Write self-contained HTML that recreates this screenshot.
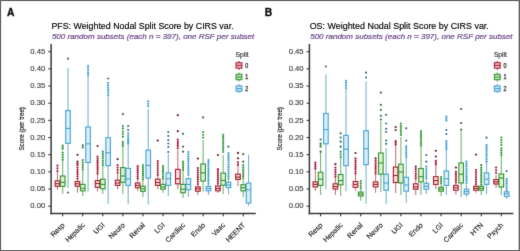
<!DOCTYPE html>
<html><head><meta charset="utf-8"><title>Weighted Nodal Split Score</title>
<style>html,body{margin:0;padding:0;background:#fff;} svg{display:block;} body{font-family:"Liberation Sans",sans-serif;}</style>
</head><body>
<svg width="520" height="251" viewBox="0 0 520 251">
<defs><filter id="soft" x="0" y="0" width="100%" height="100%" filterUnits="userSpaceOnUse" color-interpolation-filters="sRGB"><feConvolveMatrix order="3" kernelMatrix="0.015 0.065 0.015 0.065 0.68 0.065 0.015 0.065 0.015" edgeMode="duplicate"/></filter></defs>
<g filter="url(#soft)">
<rect x="0" y="0" width="520" height="251" fill="#fff"/>
<text x="7.0" y="15.6" font-size="10.3" font-weight="bold" fill="#111" stroke="#111" stroke-width="0.35" font-family="'Liberation Sans', sans-serif">A</text>
<text x="51.4" y="29.2" font-size="8.6" fill="#000" stroke="#000" stroke-width="0.15" font-family="'Liberation Sans', sans-serif" textLength="182.2" lengthAdjust="spacingAndGlyphs">PFS: Weighted Nodal Split Score by CIRS var.</text>
<text x="51.9" y="39.0" font-size="7.8" font-style="italic" fill="#6c4a8c" stroke="#6c4a8c" stroke-width="0.22" font-family="'Liberation Sans', sans-serif" textLength="202.4" lengthAdjust="spacingAndGlyphs">500 random subsets (each <tspan>n</tspan> = 397), one RSF per subset</text>
<line x1="48.30" y1="206.20" x2="51.10" y2="206.20" stroke="#222" stroke-width="1.0"/>
<text x="45.30" y="208.45" font-size="7.7" fill="#3a3a3a" stroke="#3a3a3a" stroke-width="0.12" text-anchor="end" font-family="'Liberation Sans', sans-serif">0.00</text>
<line x1="48.30" y1="189.03" x2="51.10" y2="189.03" stroke="#222" stroke-width="1.0"/>
<text x="45.30" y="191.28" font-size="7.7" fill="#3a3a3a" stroke="#3a3a3a" stroke-width="0.12" text-anchor="end" font-family="'Liberation Sans', sans-serif">0.05</text>
<line x1="48.30" y1="171.87" x2="51.10" y2="171.87" stroke="#222" stroke-width="1.0"/>
<text x="45.30" y="174.12" font-size="7.7" fill="#3a3a3a" stroke="#3a3a3a" stroke-width="0.12" text-anchor="end" font-family="'Liberation Sans', sans-serif">0.10</text>
<line x1="48.30" y1="154.70" x2="51.10" y2="154.70" stroke="#222" stroke-width="1.0"/>
<text x="45.30" y="156.95" font-size="7.7" fill="#3a3a3a" stroke="#3a3a3a" stroke-width="0.12" text-anchor="end" font-family="'Liberation Sans', sans-serif">0.15</text>
<line x1="48.30" y1="137.54" x2="51.10" y2="137.54" stroke="#222" stroke-width="1.0"/>
<text x="45.30" y="139.79" font-size="7.7" fill="#3a3a3a" stroke="#3a3a3a" stroke-width="0.12" text-anchor="end" font-family="'Liberation Sans', sans-serif">0.20</text>
<line x1="48.30" y1="120.37" x2="51.10" y2="120.37" stroke="#222" stroke-width="1.0"/>
<text x="45.30" y="122.62" font-size="7.7" fill="#3a3a3a" stroke="#3a3a3a" stroke-width="0.12" text-anchor="end" font-family="'Liberation Sans', sans-serif">0.25</text>
<line x1="48.30" y1="103.21" x2="51.10" y2="103.21" stroke="#222" stroke-width="1.0"/>
<text x="45.30" y="105.46" font-size="7.7" fill="#3a3a3a" stroke="#3a3a3a" stroke-width="0.12" text-anchor="end" font-family="'Liberation Sans', sans-serif">0.30</text>
<line x1="48.30" y1="86.04" x2="51.10" y2="86.04" stroke="#222" stroke-width="1.0"/>
<text x="45.30" y="88.29" font-size="7.7" fill="#3a3a3a" stroke="#3a3a3a" stroke-width="0.12" text-anchor="end" font-family="'Liberation Sans', sans-serif">0.35</text>
<line x1="48.30" y1="68.88" x2="51.10" y2="68.88" stroke="#222" stroke-width="1.0"/>
<text x="45.30" y="71.13" font-size="7.7" fill="#3a3a3a" stroke="#3a3a3a" stroke-width="0.12" text-anchor="end" font-family="'Liberation Sans', sans-serif">0.40</text>
<line x1="48.30" y1="51.71" x2="51.10" y2="51.71" stroke="#222" stroke-width="1.0"/>
<text x="45.30" y="53.96" font-size="7.7" fill="#3a3a3a" stroke="#3a3a3a" stroke-width="0.12" text-anchor="end" font-family="'Liberation Sans', sans-serif">0.45</text>
<text transform="translate(24.2,128.8) rotate(-90)" x="-21.75" y="0" font-size="6.9" fill="#1a1a1a" stroke="#1a1a1a" stroke-width="0.15" textLength="43.5" lengthAdjust="spacingAndGlyphs" font-family="'Liberation Sans', sans-serif">Score (per tree)</text>
<line x1="57.45" y1="171.00" x2="57.45" y2="180.90" stroke="#c47482" stroke-width="1.1"/>
<line x1="57.45" y1="186.30" x2="57.45" y2="189.50" stroke="#c47482" stroke-width="1.1"/>
<rect x="55.15" y="180.90" width="4.60" height="5.40" fill="#fbe0da" stroke="#a82035" stroke-width="1.15"/>
<line x1="55.15" y1="183.70" x2="59.75" y2="183.70" stroke="#a82035" stroke-width="1.15"/>
<circle cx="57.45" cy="165.60" r="1.1" fill="#a8173a"/>
<circle cx="57.45" cy="168.30" r="1.1" fill="#a8173a"/>
<circle cx="57.45" cy="171.00" r="1.1" fill="#a8173a"/>
<line x1="62.70" y1="160.00" x2="62.70" y2="176.00" stroke="#74b46a" stroke-width="1.1"/>
<line x1="62.70" y1="186.30" x2="62.70" y2="193.80" stroke="#74b46a" stroke-width="1.1"/>
<rect x="60.40" y="176.00" width="4.60" height="10.30" fill="#e0f3d4" stroke="#379434" stroke-width="1.15"/>
<line x1="60.40" y1="182.40" x2="65.00" y2="182.40" stroke="#379434" stroke-width="1.15"/>
<circle cx="62.70" cy="145.50" r="1.1" fill="#38983a"/>
<circle cx="62.70" cy="147.25" r="1.1" fill="#38983a"/>
<circle cx="62.70" cy="149.00" r="1.1" fill="#38983a"/>
<circle cx="62.70" cy="152.70" r="1.1" fill="#38983a"/>
<circle cx="62.70" cy="155.03" r="1.1" fill="#38983a"/>
<circle cx="62.70" cy="157.37" r="1.1" fill="#38983a"/>
<circle cx="62.70" cy="159.70" r="1.1" fill="#38983a"/>
<line x1="68.00" y1="67.90" x2="68.00" y2="110.60" stroke="#78b4ca" stroke-width="1.1"/>
<line x1="68.00" y1="143.30" x2="68.00" y2="188.00" stroke="#78b4ca" stroke-width="1.1"/>
<rect x="65.70" y="110.60" width="4.60" height="32.70" fill="#daeffa" stroke="#4aa4d4" stroke-width="1.15"/>
<line x1="65.70" y1="128.50" x2="70.30" y2="128.50" stroke="#4aa4d4" stroke-width="1.15"/>
<circle cx="68.00" cy="58.70" r="1.1" fill="#3a6e90"/>
<circle cx="68.00" cy="192.50" r="1.1" fill="#3a6e90"/>
<line x1="77.51" y1="178.50" x2="77.51" y2="181.50" stroke="#c47482" stroke-width="1.1"/>
<line x1="77.51" y1="186.30" x2="77.51" y2="192.70" stroke="#c47482" stroke-width="1.1"/>
<rect x="75.21" y="181.50" width="4.60" height="4.80" fill="#fbe0da" stroke="#a82035" stroke-width="1.15"/>
<line x1="75.21" y1="183.80" x2="79.81" y2="183.80" stroke="#a82035" stroke-width="1.15"/>
<circle cx="77.51" cy="154.80" r="1.1" fill="#701828"/>
<circle cx="77.51" cy="161.70" r="1.1" fill="#701828"/>
<circle cx="77.51" cy="163.40" r="1.1" fill="#a8173a"/>
<circle cx="77.51" cy="165.20" r="1.1" fill="#a8173a"/>
<circle cx="77.51" cy="167.60" r="1.1" fill="#a8173a"/>
<circle cx="77.51" cy="169.78" r="1.1" fill="#a8173a"/>
<circle cx="77.51" cy="171.96" r="1.1" fill="#a8173a"/>
<circle cx="77.51" cy="174.14" r="1.1" fill="#a8173a"/>
<circle cx="77.51" cy="176.32" r="1.1" fill="#a8173a"/>
<circle cx="77.51" cy="178.50" r="1.1" fill="#a8173a"/>
<line x1="82.76" y1="169.30" x2="82.76" y2="184.40" stroke="#74b46a" stroke-width="1.1"/>
<line x1="82.76" y1="190.80" x2="82.76" y2="196.00" stroke="#74b46a" stroke-width="1.1"/>
<rect x="80.46" y="184.40" width="4.60" height="6.40" fill="#e0f3d4" stroke="#379434" stroke-width="1.15"/>
<line x1="80.46" y1="188.30" x2="85.06" y2="188.30" stroke="#379434" stroke-width="1.15"/>
<circle cx="82.76" cy="145.30" r="1.1" fill="#3c6e3c"/>
<circle cx="82.76" cy="147.50" r="1.1" fill="#3c6e3c"/>
<circle cx="82.76" cy="160.00" r="1.1" fill="#38983a"/>
<circle cx="82.76" cy="162.32" r="1.1" fill="#38983a"/>
<circle cx="82.76" cy="164.65" r="1.1" fill="#38983a"/>
<circle cx="82.76" cy="166.98" r="1.1" fill="#38983a"/>
<circle cx="82.76" cy="169.30" r="1.1" fill="#38983a"/>
<line x1="88.06" y1="75.00" x2="88.06" y2="127.00" stroke="#78b4ca" stroke-width="1.1"/>
<line x1="88.06" y1="162.50" x2="88.06" y2="191.50" stroke="#78b4ca" stroke-width="1.1"/>
<rect x="85.76" y="127.00" width="4.60" height="35.50" fill="#daeffa" stroke="#4aa4d4" stroke-width="1.15"/>
<line x1="85.76" y1="143.80" x2="90.36" y2="143.80" stroke="#4aa4d4" stroke-width="1.15"/>
<circle cx="88.06" cy="66.00" r="1.1" fill="#3c9ed6"/>
<circle cx="88.06" cy="68.25" r="1.1" fill="#3c9ed6"/>
<circle cx="88.06" cy="70.50" r="1.1" fill="#3c9ed6"/>
<circle cx="88.06" cy="72.75" r="1.1" fill="#3c9ed6"/>
<circle cx="88.06" cy="75.00" r="1.1" fill="#3c9ed6"/>
<line x1="97.57" y1="173.40" x2="97.57" y2="180.60" stroke="#c47482" stroke-width="1.1"/>
<line x1="97.57" y1="187.30" x2="97.57" y2="191.50" stroke="#c47482" stroke-width="1.1"/>
<rect x="95.27" y="180.60" width="4.60" height="6.70" fill="#fbe0da" stroke="#a82035" stroke-width="1.15"/>
<line x1="95.27" y1="183.50" x2="99.87" y2="183.50" stroke="#a82035" stroke-width="1.15"/>
<circle cx="97.57" cy="146.00" r="1.1" fill="#701828"/>
<circle cx="97.57" cy="156.70" r="1.1" fill="#a8173a"/>
<circle cx="97.57" cy="158.79" r="1.1" fill="#a8173a"/>
<circle cx="97.57" cy="160.88" r="1.1" fill="#a8173a"/>
<circle cx="97.57" cy="162.96" r="1.1" fill="#a8173a"/>
<circle cx="97.57" cy="165.05" r="1.1" fill="#a8173a"/>
<circle cx="97.57" cy="167.14" r="1.1" fill="#a8173a"/>
<circle cx="97.57" cy="169.22" r="1.1" fill="#a8173a"/>
<circle cx="97.57" cy="171.31" r="1.1" fill="#a8173a"/>
<circle cx="97.57" cy="173.40" r="1.1" fill="#a8173a"/>
<line x1="102.82" y1="165.00" x2="102.82" y2="179.20" stroke="#74b46a" stroke-width="1.1"/>
<line x1="102.82" y1="188.80" x2="102.82" y2="194.00" stroke="#74b46a" stroke-width="1.1"/>
<rect x="100.52" y="179.20" width="4.60" height="9.60" fill="#e0f3d4" stroke="#379434" stroke-width="1.15"/>
<line x1="100.52" y1="184.40" x2="105.12" y2="184.40" stroke="#379434" stroke-width="1.15"/>
<circle cx="102.82" cy="151.70" r="1.1" fill="#38983a"/>
<circle cx="102.82" cy="153.92" r="1.1" fill="#38983a"/>
<circle cx="102.82" cy="156.13" r="1.1" fill="#38983a"/>
<circle cx="102.82" cy="158.35" r="1.1" fill="#38983a"/>
<circle cx="102.82" cy="160.57" r="1.1" fill="#38983a"/>
<circle cx="102.82" cy="162.78" r="1.1" fill="#38983a"/>
<circle cx="102.82" cy="165.00" r="1.1" fill="#38983a"/>
<line x1="108.12" y1="96.00" x2="108.12" y2="137.70" stroke="#78b4ca" stroke-width="1.1"/>
<line x1="108.12" y1="165.60" x2="108.12" y2="203.70" stroke="#78b4ca" stroke-width="1.1"/>
<rect x="105.82" y="137.70" width="4.60" height="27.90" fill="#daeffa" stroke="#4aa4d4" stroke-width="1.15"/>
<line x1="105.82" y1="152.70" x2="110.42" y2="152.70" stroke="#4aa4d4" stroke-width="1.15"/>
<circle cx="108.12" cy="78.50" r="1.1" fill="#3a6e90"/>
<circle cx="108.12" cy="83.00" r="1.1" fill="#3c9ed6"/>
<circle cx="108.12" cy="85.40" r="1.1" fill="#3c9ed6"/>
<circle cx="108.12" cy="87.80" r="1.1" fill="#3c9ed6"/>
<circle cx="108.12" cy="90.20" r="1.1" fill="#3c9ed6"/>
<circle cx="108.12" cy="92.60" r="1.1" fill="#3c9ed6"/>
<circle cx="108.12" cy="95.00" r="1.1" fill="#3c9ed6"/>
<line x1="117.63" y1="172.60" x2="117.63" y2="180.20" stroke="#c47482" stroke-width="1.1"/>
<line x1="117.63" y1="185.40" x2="117.63" y2="189.60" stroke="#c47482" stroke-width="1.1"/>
<rect x="115.33" y="180.20" width="4.60" height="5.20" fill="#fbe0da" stroke="#a82035" stroke-width="1.15"/>
<line x1="115.33" y1="183.00" x2="119.93" y2="183.00" stroke="#a82035" stroke-width="1.15"/>
<circle cx="117.63" cy="159.20" r="1.1" fill="#701828"/>
<circle cx="117.63" cy="165.00" r="1.1" fill="#a8173a"/>
<circle cx="117.63" cy="167.53" r="1.1" fill="#a8173a"/>
<circle cx="117.63" cy="170.07" r="1.1" fill="#a8173a"/>
<circle cx="117.63" cy="172.60" r="1.1" fill="#a8173a"/>
<line x1="122.88" y1="146.00" x2="122.88" y2="167.60" stroke="#74b46a" stroke-width="1.1"/>
<line x1="122.88" y1="182.30" x2="122.88" y2="194.00" stroke="#74b46a" stroke-width="1.1"/>
<rect x="120.58" y="167.60" width="4.60" height="14.70" fill="#e0f3d4" stroke="#379434" stroke-width="1.15"/>
<line x1="120.58" y1="176.00" x2="125.18" y2="176.00" stroke="#379434" stroke-width="1.15"/>
<circle cx="122.88" cy="114.20" r="1.1" fill="#3c6e3c"/>
<circle cx="122.88" cy="126.00" r="1.1" fill="#38983a"/>
<circle cx="122.88" cy="128.40" r="1.1" fill="#38983a"/>
<circle cx="122.88" cy="131.70" r="1.1" fill="#38983a"/>
<circle cx="122.88" cy="134.25" r="1.1" fill="#38983a"/>
<circle cx="122.88" cy="136.80" r="1.1" fill="#38983a"/>
<circle cx="122.88" cy="141.80" r="1.1" fill="#38983a"/>
<circle cx="122.88" cy="143.90" r="1.1" fill="#38983a"/>
<circle cx="122.88" cy="146.00" r="1.1" fill="#38983a"/>
<line x1="128.18" y1="143.40" x2="128.18" y2="168.40" stroke="#78b4ca" stroke-width="1.1"/>
<line x1="128.18" y1="185.40" x2="128.18" y2="204.20" stroke="#78b4ca" stroke-width="1.1"/>
<rect x="125.88" y="168.40" width="4.60" height="17.00" fill="#daeffa" stroke="#4aa4d4" stroke-width="1.15"/>
<line x1="125.88" y1="179.00" x2="130.48" y2="179.00" stroke="#4aa4d4" stroke-width="1.15"/>
<circle cx="128.18" cy="126.00" r="1.1" fill="#3a6e90"/>
<circle cx="128.18" cy="130.00" r="1.1" fill="#3a6e90"/>
<circle cx="128.18" cy="133.40" r="1.1" fill="#3c9ed6"/>
<circle cx="128.18" cy="135.90" r="1.1" fill="#3c9ed6"/>
<circle cx="128.18" cy="138.40" r="1.1" fill="#3c9ed6"/>
<circle cx="128.18" cy="140.00" r="1.1" fill="#3c9ed6"/>
<circle cx="128.18" cy="141.70" r="1.1" fill="#3c9ed6"/>
<circle cx="128.18" cy="143.40" r="1.1" fill="#3c9ed6"/>
<line x1="137.69" y1="178.40" x2="137.69" y2="183.00" stroke="#c47482" stroke-width="1.1"/>
<line x1="137.69" y1="187.70" x2="137.69" y2="191.00" stroke="#c47482" stroke-width="1.1"/>
<rect x="135.39" y="183.00" width="4.60" height="4.70" fill="#fbe0da" stroke="#a82035" stroke-width="1.15"/>
<line x1="135.39" y1="185.40" x2="139.99" y2="185.40" stroke="#a82035" stroke-width="1.15"/>
<circle cx="137.69" cy="166.00" r="1.1" fill="#a8173a"/>
<circle cx="137.69" cy="168.07" r="1.1" fill="#a8173a"/>
<circle cx="137.69" cy="170.13" r="1.1" fill="#a8173a"/>
<circle cx="137.69" cy="172.20" r="1.1" fill="#a8173a"/>
<circle cx="137.69" cy="174.27" r="1.1" fill="#a8173a"/>
<circle cx="137.69" cy="176.33" r="1.1" fill="#a8173a"/>
<circle cx="137.69" cy="178.40" r="1.1" fill="#a8173a"/>
<line x1="142.94" y1="179.30" x2="142.94" y2="186.30" stroke="#74b46a" stroke-width="1.1"/>
<line x1="142.94" y1="191.30" x2="142.94" y2="197.00" stroke="#74b46a" stroke-width="1.1"/>
<rect x="140.64" y="186.30" width="4.60" height="5.00" fill="#e0f3d4" stroke="#379434" stroke-width="1.15"/>
<line x1="140.64" y1="188.80" x2="145.24" y2="188.80" stroke="#379434" stroke-width="1.15"/>
<circle cx="142.94" cy="165.00" r="1.1" fill="#38983a"/>
<circle cx="142.94" cy="167.04" r="1.1" fill="#38983a"/>
<circle cx="142.94" cy="169.09" r="1.1" fill="#38983a"/>
<circle cx="142.94" cy="171.13" r="1.1" fill="#38983a"/>
<circle cx="142.94" cy="173.17" r="1.1" fill="#38983a"/>
<circle cx="142.94" cy="175.21" r="1.1" fill="#38983a"/>
<circle cx="142.94" cy="177.26" r="1.1" fill="#38983a"/>
<circle cx="142.94" cy="179.30" r="1.1" fill="#38983a"/>
<line x1="148.24" y1="109.00" x2="148.24" y2="150.20" stroke="#78b4ca" stroke-width="1.1"/>
<line x1="148.24" y1="178.00" x2="148.24" y2="204.60" stroke="#78b4ca" stroke-width="1.1"/>
<rect x="145.94" y="150.20" width="4.60" height="27.80" fill="#daeffa" stroke="#4aa4d4" stroke-width="1.15"/>
<line x1="145.94" y1="165.40" x2="150.54" y2="165.40" stroke="#4aa4d4" stroke-width="1.15"/>
<circle cx="148.24" cy="101.30" r="1.1" fill="#3c9ed6"/>
<circle cx="148.24" cy="103.75" r="1.1" fill="#3c9ed6"/>
<circle cx="148.24" cy="106.20" r="1.1" fill="#3c9ed6"/>
<line x1="157.75" y1="175.00" x2="157.75" y2="179.20" stroke="#c47482" stroke-width="1.1"/>
<line x1="157.75" y1="185.40" x2="157.75" y2="189.20" stroke="#c47482" stroke-width="1.1"/>
<rect x="155.45" y="179.20" width="4.60" height="6.20" fill="#fbe0da" stroke="#a82035" stroke-width="1.15"/>
<line x1="155.45" y1="182.50" x2="160.05" y2="182.50" stroke="#a82035" stroke-width="1.15"/>
<circle cx="157.75" cy="140.60" r="1.1" fill="#701828"/>
<circle cx="157.75" cy="161.00" r="1.1" fill="#a8173a"/>
<circle cx="157.75" cy="163.33" r="1.1" fill="#a8173a"/>
<circle cx="157.75" cy="165.67" r="1.1" fill="#a8173a"/>
<circle cx="157.75" cy="168.00" r="1.1" fill="#a8173a"/>
<circle cx="157.75" cy="170.33" r="1.1" fill="#a8173a"/>
<circle cx="157.75" cy="172.67" r="1.1" fill="#a8173a"/>
<circle cx="157.75" cy="175.00" r="1.1" fill="#a8173a"/>
<line x1="163.00" y1="178.40" x2="163.00" y2="184.40" stroke="#74b46a" stroke-width="1.1"/>
<line x1="163.00" y1="189.20" x2="163.00" y2="193.00" stroke="#74b46a" stroke-width="1.1"/>
<rect x="160.70" y="184.40" width="4.60" height="4.80" fill="#e0f3d4" stroke="#379434" stroke-width="1.15"/>
<line x1="160.70" y1="187.00" x2="165.30" y2="187.00" stroke="#379434" stroke-width="1.15"/>
<circle cx="163.00" cy="166.00" r="1.1" fill="#38983a"/>
<circle cx="163.00" cy="168.07" r="1.1" fill="#38983a"/>
<circle cx="163.00" cy="170.13" r="1.1" fill="#38983a"/>
<circle cx="163.00" cy="172.20" r="1.1" fill="#38983a"/>
<circle cx="163.00" cy="174.27" r="1.1" fill="#38983a"/>
<circle cx="163.00" cy="176.33" r="1.1" fill="#38983a"/>
<circle cx="163.00" cy="178.40" r="1.1" fill="#38983a"/>
<line x1="168.30" y1="154.00" x2="168.30" y2="172.90" stroke="#78b4ca" stroke-width="1.1"/>
<line x1="168.30" y1="185.40" x2="168.30" y2="196.00" stroke="#78b4ca" stroke-width="1.1"/>
<rect x="166.00" y="172.90" width="4.60" height="12.50" fill="#daeffa" stroke="#4aa4d4" stroke-width="1.15"/>
<line x1="166.00" y1="178.70" x2="170.60" y2="178.70" stroke="#4aa4d4" stroke-width="1.15"/>
<circle cx="168.30" cy="132.00" r="1.1" fill="#3a6e90"/>
<circle cx="168.30" cy="136.00" r="1.1" fill="#3a6e90"/>
<circle cx="168.30" cy="140.00" r="1.1" fill="#3a6e90"/>
<circle cx="168.30" cy="143.50" r="1.1" fill="#3a6e90"/>
<circle cx="168.30" cy="147.00" r="1.1" fill="#3a6e90"/>
<circle cx="168.30" cy="152.00" r="1.1" fill="#3a6e90"/>
<line x1="177.81" y1="150.00" x2="177.81" y2="169.40" stroke="#c47482" stroke-width="1.1"/>
<line x1="177.81" y1="183.80" x2="177.81" y2="189.20" stroke="#c47482" stroke-width="1.1"/>
<rect x="175.51" y="169.40" width="4.60" height="14.40" fill="#fbe0da" stroke="#a82035" stroke-width="1.15"/>
<line x1="175.51" y1="178.70" x2="180.11" y2="178.70" stroke="#a82035" stroke-width="1.15"/>
<circle cx="177.81" cy="115.20" r="1.1" fill="#701828"/>
<circle cx="177.81" cy="131.20" r="1.1" fill="#701828"/>
<circle cx="177.81" cy="139.60" r="1.1" fill="#a8173a"/>
<circle cx="177.81" cy="141.78" r="1.1" fill="#a8173a"/>
<circle cx="177.81" cy="143.95" r="1.1" fill="#a8173a"/>
<circle cx="177.81" cy="146.12" r="1.1" fill="#a8173a"/>
<circle cx="177.81" cy="148.30" r="1.1" fill="#a8173a"/>
<line x1="183.06" y1="170.00" x2="183.06" y2="184.40" stroke="#74b46a" stroke-width="1.1"/>
<line x1="183.06" y1="192.70" x2="183.06" y2="197.90" stroke="#74b46a" stroke-width="1.1"/>
<rect x="180.76" y="184.40" width="4.60" height="8.30" fill="#e0f3d4" stroke="#379434" stroke-width="1.15"/>
<line x1="180.76" y1="189.20" x2="185.36" y2="189.20" stroke="#379434" stroke-width="1.15"/>
<circle cx="183.06" cy="133.80" r="1.1" fill="#3c6e3c"/>
<circle cx="183.06" cy="146.70" r="1.1" fill="#3c6e3c"/>
<circle cx="183.06" cy="151.70" r="1.1" fill="#3c6e3c"/>
<circle cx="183.06" cy="161.70" r="1.1" fill="#38983a"/>
<circle cx="183.06" cy="163.77" r="1.1" fill="#38983a"/>
<circle cx="183.06" cy="165.85" r="1.1" fill="#38983a"/>
<circle cx="183.06" cy="167.93" r="1.1" fill="#38983a"/>
<circle cx="183.06" cy="170.00" r="1.1" fill="#38983a"/>
<line x1="188.36" y1="177.00" x2="188.36" y2="178.70" stroke="#78b4ca" stroke-width="1.1"/>
<line x1="188.36" y1="189.60" x2="188.36" y2="197.00" stroke="#78b4ca" stroke-width="1.1"/>
<rect x="186.06" y="178.70" width="4.60" height="10.90" fill="#daeffa" stroke="#4aa4d4" stroke-width="1.15"/>
<line x1="186.06" y1="184.40" x2="190.66" y2="184.40" stroke="#4aa4d4" stroke-width="1.15"/>
<circle cx="188.36" cy="152.00" r="1.1" fill="#3c9ed6"/>
<circle cx="188.36" cy="154.30" r="1.1" fill="#3c9ed6"/>
<circle cx="188.36" cy="156.60" r="1.1" fill="#3c9ed6"/>
<circle cx="188.36" cy="158.90" r="1.1" fill="#3c9ed6"/>
<circle cx="188.36" cy="161.20" r="1.1" fill="#3c9ed6"/>
<circle cx="188.36" cy="163.50" r="1.1" fill="#3c9ed6"/>
<circle cx="188.36" cy="165.80" r="1.1" fill="#3c9ed6"/>
<circle cx="188.36" cy="168.10" r="1.1" fill="#3c9ed6"/>
<circle cx="188.36" cy="170.40" r="1.1" fill="#3c9ed6"/>
<circle cx="188.36" cy="172.70" r="1.1" fill="#3c9ed6"/>
<circle cx="188.36" cy="175.00" r="1.1" fill="#3c9ed6"/>
<line x1="197.87" y1="185.00" x2="197.87" y2="186.90" stroke="#c47482" stroke-width="1.1"/>
<line x1="197.87" y1="191.20" x2="197.87" y2="195.00" stroke="#c47482" stroke-width="1.1"/>
<rect x="195.57" y="186.90" width="4.60" height="4.30" fill="#fbe0da" stroke="#a82035" stroke-width="1.15"/>
<line x1="195.57" y1="188.80" x2="200.17" y2="188.80" stroke="#a82035" stroke-width="1.15"/>
<circle cx="197.87" cy="158.60" r="1.1" fill="#701828"/>
<circle cx="197.87" cy="168.00" r="1.1" fill="#a8173a"/>
<circle cx="197.87" cy="170.29" r="1.1" fill="#a8173a"/>
<circle cx="197.87" cy="172.57" r="1.1" fill="#a8173a"/>
<circle cx="197.87" cy="174.86" r="1.1" fill="#a8173a"/>
<circle cx="197.87" cy="177.14" r="1.1" fill="#a8173a"/>
<circle cx="197.87" cy="179.43" r="1.1" fill="#a8173a"/>
<circle cx="197.87" cy="181.71" r="1.1" fill="#a8173a"/>
<circle cx="197.87" cy="184.00" r="1.1" fill="#a8173a"/>
<line x1="203.12" y1="140.00" x2="203.12" y2="164.00" stroke="#74b46a" stroke-width="1.1"/>
<line x1="203.12" y1="181.00" x2="203.12" y2="191.70" stroke="#74b46a" stroke-width="1.1"/>
<rect x="200.82" y="164.00" width="4.60" height="17.00" fill="#e0f3d4" stroke="#379434" stroke-width="1.15"/>
<line x1="200.82" y1="172.90" x2="205.42" y2="172.90" stroke="#379434" stroke-width="1.15"/>
<circle cx="203.12" cy="117.40" r="1.1" fill="#3c6e3c"/>
<circle cx="203.12" cy="132.00" r="1.1" fill="#38983a"/>
<circle cx="203.12" cy="134.75" r="1.1" fill="#38983a"/>
<circle cx="203.12" cy="137.50" r="1.1" fill="#38983a"/>
<line x1="208.42" y1="184.00" x2="208.42" y2="186.30" stroke="#78b4ca" stroke-width="1.1"/>
<line x1="208.42" y1="190.80" x2="208.42" y2="195.00" stroke="#78b4ca" stroke-width="1.1"/>
<rect x="206.12" y="186.30" width="4.60" height="4.50" fill="#daeffa" stroke="#4aa4d4" stroke-width="1.15"/>
<line x1="206.12" y1="188.50" x2="210.72" y2="188.50" stroke="#4aa4d4" stroke-width="1.15"/>
<circle cx="208.42" cy="160.00" r="1.1" fill="#3c9ed6"/>
<circle cx="208.42" cy="162.14" r="1.1" fill="#3c9ed6"/>
<circle cx="208.42" cy="164.27" r="1.1" fill="#3c9ed6"/>
<circle cx="208.42" cy="166.41" r="1.1" fill="#3c9ed6"/>
<circle cx="208.42" cy="168.55" r="1.1" fill="#3c9ed6"/>
<circle cx="208.42" cy="170.68" r="1.1" fill="#3c9ed6"/>
<circle cx="208.42" cy="172.82" r="1.1" fill="#3c9ed6"/>
<circle cx="208.42" cy="174.95" r="1.1" fill="#3c9ed6"/>
<circle cx="208.42" cy="177.09" r="1.1" fill="#3c9ed6"/>
<circle cx="208.42" cy="179.23" r="1.1" fill="#3c9ed6"/>
<circle cx="208.42" cy="181.36" r="1.1" fill="#3c9ed6"/>
<circle cx="208.42" cy="183.50" r="1.1" fill="#3c9ed6"/>
<line x1="217.93" y1="184.00" x2="217.93" y2="186.00" stroke="#c47482" stroke-width="1.1"/>
<line x1="217.93" y1="190.80" x2="217.93" y2="192.70" stroke="#c47482" stroke-width="1.1"/>
<rect x="215.63" y="186.00" width="4.60" height="4.80" fill="#fbe0da" stroke="#a82035" stroke-width="1.15"/>
<line x1="215.63" y1="188.50" x2="220.23" y2="188.50" stroke="#a82035" stroke-width="1.15"/>
<circle cx="217.93" cy="155.00" r="1.1" fill="#701828"/>
<circle cx="217.93" cy="169.20" r="1.1" fill="#a8173a"/>
<circle cx="217.93" cy="171.24" r="1.1" fill="#a8173a"/>
<circle cx="217.93" cy="173.29" r="1.1" fill="#a8173a"/>
<circle cx="217.93" cy="175.33" r="1.1" fill="#a8173a"/>
<circle cx="217.93" cy="177.37" r="1.1" fill="#a8173a"/>
<circle cx="217.93" cy="179.41" r="1.1" fill="#a8173a"/>
<circle cx="217.93" cy="181.46" r="1.1" fill="#a8173a"/>
<circle cx="217.93" cy="183.50" r="1.1" fill="#a8173a"/>
<line x1="223.18" y1="155.00" x2="223.18" y2="173.10" stroke="#74b46a" stroke-width="1.1"/>
<line x1="223.18" y1="185.20" x2="223.18" y2="194.00" stroke="#74b46a" stroke-width="1.1"/>
<rect x="220.88" y="173.10" width="4.60" height="12.10" fill="#e0f3d4" stroke="#379434" stroke-width="1.15"/>
<line x1="220.88" y1="180.40" x2="225.48" y2="180.40" stroke="#379434" stroke-width="1.15"/>
<circle cx="223.18" cy="134.80" r="1.1" fill="#38983a"/>
<circle cx="223.18" cy="136.95" r="1.1" fill="#38983a"/>
<circle cx="223.18" cy="139.10" r="1.1" fill="#38983a"/>
<circle cx="223.18" cy="141.25" r="1.1" fill="#38983a"/>
<circle cx="223.18" cy="143.40" r="1.1" fill="#38983a"/>
<circle cx="223.18" cy="145.55" r="1.1" fill="#38983a"/>
<circle cx="223.18" cy="147.70" r="1.1" fill="#38983a"/>
<circle cx="223.18" cy="149.85" r="1.1" fill="#38983a"/>
<circle cx="223.18" cy="152.00" r="1.1" fill="#38983a"/>
<line x1="228.48" y1="179.00" x2="228.48" y2="182.30" stroke="#78b4ca" stroke-width="1.1"/>
<line x1="228.48" y1="187.60" x2="228.48" y2="194.50" stroke="#78b4ca" stroke-width="1.1"/>
<rect x="226.18" y="182.30" width="4.60" height="5.30" fill="#daeffa" stroke="#4aa4d4" stroke-width="1.15"/>
<line x1="226.18" y1="185.00" x2="230.78" y2="185.00" stroke="#4aa4d4" stroke-width="1.15"/>
<circle cx="228.48" cy="146.70" r="1.1" fill="#3a6e90"/>
<circle cx="228.48" cy="153.40" r="1.1" fill="#3c9ed6"/>
<circle cx="228.48" cy="155.67" r="1.1" fill="#3c9ed6"/>
<circle cx="228.48" cy="157.95" r="1.1" fill="#3c9ed6"/>
<circle cx="228.48" cy="160.22" r="1.1" fill="#3c9ed6"/>
<circle cx="228.48" cy="162.49" r="1.1" fill="#3c9ed6"/>
<circle cx="228.48" cy="164.76" r="1.1" fill="#3c9ed6"/>
<circle cx="228.48" cy="167.04" r="1.1" fill="#3c9ed6"/>
<circle cx="228.48" cy="169.31" r="1.1" fill="#3c9ed6"/>
<circle cx="228.48" cy="171.58" r="1.1" fill="#3c9ed6"/>
<circle cx="228.48" cy="173.85" r="1.1" fill="#3c9ed6"/>
<circle cx="228.48" cy="176.13" r="1.1" fill="#3c9ed6"/>
<circle cx="228.48" cy="178.40" r="1.1" fill="#3c9ed6"/>
<line x1="237.99" y1="165.50" x2="237.99" y2="174.20" stroke="#c47482" stroke-width="1.1"/>
<line x1="237.99" y1="179.40" x2="237.99" y2="186.20" stroke="#c47482" stroke-width="1.1"/>
<rect x="235.69" y="174.20" width="4.60" height="5.20" fill="#fbe0da" stroke="#a82035" stroke-width="1.15"/>
<line x1="235.69" y1="177.10" x2="240.29" y2="177.10" stroke="#a82035" stroke-width="1.15"/>
<circle cx="237.99" cy="152.90" r="1.1" fill="#701828"/>
<circle cx="237.99" cy="158.30" r="1.1" fill="#701828"/>
<circle cx="237.99" cy="162.40" r="1.1" fill="#a8173a"/>
<circle cx="237.99" cy="164.80" r="1.1" fill="#a8173a"/>
<line x1="243.24" y1="180.00" x2="243.24" y2="184.70" stroke="#74b46a" stroke-width="1.1"/>
<line x1="243.24" y1="190.90" x2="243.24" y2="197.10" stroke="#74b46a" stroke-width="1.1"/>
<rect x="240.94" y="184.70" width="4.60" height="6.20" fill="#e0f3d4" stroke="#379434" stroke-width="1.15"/>
<line x1="240.94" y1="187.80" x2="245.54" y2="187.80" stroke="#379434" stroke-width="1.15"/>
<circle cx="243.24" cy="154.20" r="1.1" fill="#3c6e3c"/>
<circle cx="243.24" cy="161.70" r="1.1" fill="#3c6e3c"/>
<circle cx="243.24" cy="165.00" r="1.1" fill="#38983a"/>
<circle cx="243.24" cy="167.23" r="1.1" fill="#38983a"/>
<circle cx="243.24" cy="169.47" r="1.1" fill="#38983a"/>
<circle cx="243.24" cy="171.70" r="1.1" fill="#38983a"/>
<circle cx="243.24" cy="173.93" r="1.1" fill="#38983a"/>
<circle cx="243.24" cy="176.17" r="1.1" fill="#38983a"/>
<circle cx="243.24" cy="178.40" r="1.1" fill="#38983a"/>
<line x1="248.54" y1="154.70" x2="248.54" y2="183.10" stroke="#78b4ca" stroke-width="1.1"/>
<line x1="248.54" y1="203.00" x2="248.54" y2="205.70" stroke="#78b4ca" stroke-width="1.1"/>
<rect x="246.24" y="183.10" width="4.60" height="19.90" fill="#daeffa" stroke="#4aa4d4" stroke-width="1.15"/>
<line x1="246.24" y1="189.80" x2="250.84" y2="189.80" stroke="#4aa4d4" stroke-width="1.15"/>
<line x1="51.10" y1="44.00" x2="51.10" y2="214.30" stroke="#383838" stroke-width="1.5"/>
<line x1="50.30" y1="213.50" x2="255.80" y2="213.50" stroke="#383838" stroke-width="1.35"/>
<line x1="62.70" y1="213.50" x2="62.70" y2="216.30" stroke="#222" stroke-width="1.0"/>
<text transform="translate(65.10,225.60) rotate(-45)" font-size="7.1" fill="#222" stroke="#222" stroke-width="0.15" text-anchor="end" font-family="'Liberation Sans', sans-serif">Resp</text>
<line x1="82.76" y1="213.50" x2="82.76" y2="216.30" stroke="#222" stroke-width="1.0"/>
<text transform="translate(85.16,225.60) rotate(-45)" font-size="7.1" fill="#222" stroke="#222" stroke-width="0.15" text-anchor="end" font-family="'Liberation Sans', sans-serif">Hepatic</text>
<line x1="102.82" y1="213.50" x2="102.82" y2="216.30" stroke="#222" stroke-width="1.0"/>
<text transform="translate(105.22,225.60) rotate(-45)" font-size="7.1" fill="#222" stroke="#222" stroke-width="0.15" text-anchor="end" font-family="'Liberation Sans', sans-serif">UGI</text>
<line x1="122.88" y1="213.50" x2="122.88" y2="216.30" stroke="#222" stroke-width="1.0"/>
<text transform="translate(125.28,225.60) rotate(-45)" font-size="7.1" fill="#222" stroke="#222" stroke-width="0.15" text-anchor="end" font-family="'Liberation Sans', sans-serif">Neuro</text>
<line x1="142.94" y1="213.50" x2="142.94" y2="216.30" stroke="#222" stroke-width="1.0"/>
<text transform="translate(145.34,225.60) rotate(-45)" font-size="7.1" fill="#222" stroke="#222" stroke-width="0.15" text-anchor="end" font-family="'Liberation Sans', sans-serif">Renal</text>
<line x1="163.00" y1="213.50" x2="163.00" y2="216.30" stroke="#222" stroke-width="1.0"/>
<text transform="translate(165.40,225.60) rotate(-45)" font-size="7.1" fill="#222" stroke="#222" stroke-width="0.15" text-anchor="end" font-family="'Liberation Sans', sans-serif">LGI</text>
<line x1="183.06" y1="213.50" x2="183.06" y2="216.30" stroke="#222" stroke-width="1.0"/>
<text transform="translate(185.46,225.60) rotate(-45)" font-size="7.1" fill="#222" stroke="#222" stroke-width="0.15" text-anchor="end" font-family="'Liberation Sans', sans-serif">Cardiac</text>
<line x1="203.12" y1="213.50" x2="203.12" y2="216.30" stroke="#222" stroke-width="1.0"/>
<text transform="translate(205.52,225.60) rotate(-45)" font-size="7.1" fill="#222" stroke="#222" stroke-width="0.15" text-anchor="end" font-family="'Liberation Sans', sans-serif">Endo</text>
<line x1="223.18" y1="213.50" x2="223.18" y2="216.30" stroke="#222" stroke-width="1.0"/>
<text transform="translate(225.58,225.60) rotate(-45)" font-size="7.1" fill="#222" stroke="#222" stroke-width="0.15" text-anchor="end" font-family="'Liberation Sans', sans-serif">Vasc</text>
<line x1="243.24" y1="213.50" x2="243.24" y2="216.30" stroke="#222" stroke-width="1.0"/>
<text transform="translate(245.64,225.60) rotate(-45)" font-size="7.1" fill="#222" stroke="#222" stroke-width="0.15" text-anchor="end" font-family="'Liberation Sans', sans-serif">HEENT</text>
<text x="235.6" y="57.0" font-size="6.7" fill="#2a2a2a" stroke="#2a2a2a" stroke-width="0.12" font-family="'Liberation Sans', sans-serif">Split</text>
<line x1="239.00" y1="60.90" x2="239.00" y2="69.90" stroke="#a82035" stroke-width="1.0"/>
<rect x="236.10" y="62.70" width="5.8" height="5.4" fill="#f2c0c8" stroke="#a82035" stroke-width="1.1"/>
<line x1="236.10" y1="65.40" x2="241.90" y2="65.40" stroke="#a82035" stroke-width="1.1"/>
<text x="245.30" y="67.80" font-size="6.6" fill="#222" stroke="#222" stroke-width="0.25" textLength="3.0" lengthAdjust="spacingAndGlyphs" font-family="'Liberation Sans', sans-serif">0</text>
<line x1="239.00" y1="72.50" x2="239.00" y2="81.50" stroke="#379434" stroke-width="1.0"/>
<rect x="236.10" y="74.30" width="5.8" height="5.4" fill="#c4e8b8" stroke="#379434" stroke-width="1.1"/>
<line x1="236.10" y1="77.00" x2="241.90" y2="77.00" stroke="#379434" stroke-width="1.1"/>
<text x="245.30" y="79.40" font-size="6.6" fill="#222" stroke="#222" stroke-width="0.25" textLength="3.0" lengthAdjust="spacingAndGlyphs" font-family="'Liberation Sans', sans-serif">1</text>
<line x1="239.00" y1="84.10" x2="239.00" y2="93.10" stroke="#4aa4d4" stroke-width="1.0"/>
<rect x="236.10" y="85.90" width="5.8" height="5.4" fill="#c2e4f4" stroke="#4aa4d4" stroke-width="1.1"/>
<line x1="236.10" y1="88.60" x2="241.90" y2="88.60" stroke="#4aa4d4" stroke-width="1.1"/>
<text x="245.30" y="91.00" font-size="6.6" fill="#222" stroke="#222" stroke-width="0.25" textLength="3.0" lengthAdjust="spacingAndGlyphs" font-family="'Liberation Sans', sans-serif">2</text>
<text x="264.8" y="15.6" font-size="10.3" font-weight="bold" fill="#111" stroke="#111" stroke-width="0.35" font-family="'Liberation Sans', sans-serif">B</text>
<text x="309.7" y="29.2" font-size="8.6" fill="#000" stroke="#000" stroke-width="0.15" font-family="'Liberation Sans', sans-serif" textLength="179.1" lengthAdjust="spacingAndGlyphs">OS: Weighted Nodal Split Score by CIRS var.</text>
<text x="310.2" y="39.0" font-size="7.8" font-style="italic" fill="#6c4a8c" stroke="#6c4a8c" stroke-width="0.22" font-family="'Liberation Sans', sans-serif" textLength="202.4" lengthAdjust="spacingAndGlyphs">500 random subsets (each <tspan>n</tspan> = 397), one RSF per subset</text>
<line x1="306.60" y1="206.20" x2="309.40" y2="206.20" stroke="#222" stroke-width="1.0"/>
<text x="303.60" y="208.45" font-size="7.7" fill="#3a3a3a" stroke="#3a3a3a" stroke-width="0.12" text-anchor="end" font-family="'Liberation Sans', sans-serif">0.00</text>
<line x1="306.60" y1="189.03" x2="309.40" y2="189.03" stroke="#222" stroke-width="1.0"/>
<text x="303.60" y="191.28" font-size="7.7" fill="#3a3a3a" stroke="#3a3a3a" stroke-width="0.12" text-anchor="end" font-family="'Liberation Sans', sans-serif">0.05</text>
<line x1="306.60" y1="171.87" x2="309.40" y2="171.87" stroke="#222" stroke-width="1.0"/>
<text x="303.60" y="174.12" font-size="7.7" fill="#3a3a3a" stroke="#3a3a3a" stroke-width="0.12" text-anchor="end" font-family="'Liberation Sans', sans-serif">0.10</text>
<line x1="306.60" y1="154.70" x2="309.40" y2="154.70" stroke="#222" stroke-width="1.0"/>
<text x="303.60" y="156.95" font-size="7.7" fill="#3a3a3a" stroke="#3a3a3a" stroke-width="0.12" text-anchor="end" font-family="'Liberation Sans', sans-serif">0.15</text>
<line x1="306.60" y1="137.54" x2="309.40" y2="137.54" stroke="#222" stroke-width="1.0"/>
<text x="303.60" y="139.79" font-size="7.7" fill="#3a3a3a" stroke="#3a3a3a" stroke-width="0.12" text-anchor="end" font-family="'Liberation Sans', sans-serif">0.20</text>
<line x1="306.60" y1="120.37" x2="309.40" y2="120.37" stroke="#222" stroke-width="1.0"/>
<text x="303.60" y="122.62" font-size="7.7" fill="#3a3a3a" stroke="#3a3a3a" stroke-width="0.12" text-anchor="end" font-family="'Liberation Sans', sans-serif">0.25</text>
<line x1="306.60" y1="103.21" x2="309.40" y2="103.21" stroke="#222" stroke-width="1.0"/>
<text x="303.60" y="105.46" font-size="7.7" fill="#3a3a3a" stroke="#3a3a3a" stroke-width="0.12" text-anchor="end" font-family="'Liberation Sans', sans-serif">0.30</text>
<line x1="306.60" y1="86.04" x2="309.40" y2="86.04" stroke="#222" stroke-width="1.0"/>
<text x="303.60" y="88.29" font-size="7.7" fill="#3a3a3a" stroke="#3a3a3a" stroke-width="0.12" text-anchor="end" font-family="'Liberation Sans', sans-serif">0.35</text>
<line x1="306.60" y1="68.88" x2="309.40" y2="68.88" stroke="#222" stroke-width="1.0"/>
<text x="303.60" y="71.13" font-size="7.7" fill="#3a3a3a" stroke="#3a3a3a" stroke-width="0.12" text-anchor="end" font-family="'Liberation Sans', sans-serif">0.40</text>
<line x1="306.60" y1="51.71" x2="309.40" y2="51.71" stroke="#222" stroke-width="1.0"/>
<text x="303.60" y="53.96" font-size="7.7" fill="#3a3a3a" stroke="#3a3a3a" stroke-width="0.12" text-anchor="end" font-family="'Liberation Sans', sans-serif">0.45</text>
<text transform="translate(281.7,128.8) rotate(-90)" x="-21.75" y="0" font-size="6.9" fill="#1a1a1a" stroke="#1a1a1a" stroke-width="0.15" textLength="43.5" lengthAdjust="spacingAndGlyphs" font-family="'Liberation Sans', sans-serif">Score (per tree)</text>
<line x1="315.35" y1="168.40" x2="315.35" y2="181.90" stroke="#c47482" stroke-width="1.1"/>
<line x1="315.35" y1="186.90" x2="315.35" y2="190.80" stroke="#c47482" stroke-width="1.1"/>
<rect x="313.05" y="181.90" width="4.60" height="5.00" fill="#fbe0da" stroke="#a82035" stroke-width="1.15"/>
<line x1="313.05" y1="184.40" x2="317.65" y2="184.40" stroke="#a82035" stroke-width="1.15"/>
<circle cx="315.35" cy="162.60" r="1.1" fill="#a8173a"/>
<circle cx="315.35" cy="164.53" r="1.1" fill="#a8173a"/>
<circle cx="315.35" cy="166.47" r="1.1" fill="#a8173a"/>
<circle cx="315.35" cy="168.40" r="1.1" fill="#a8173a"/>
<line x1="320.60" y1="152.00" x2="320.60" y2="172.30" stroke="#74b46a" stroke-width="1.1"/>
<line x1="320.60" y1="185.40" x2="320.60" y2="195.00" stroke="#74b46a" stroke-width="1.1"/>
<rect x="318.30" y="172.30" width="4.60" height="13.10" fill="#e0f3d4" stroke="#379434" stroke-width="1.15"/>
<line x1="318.30" y1="179.20" x2="322.90" y2="179.20" stroke="#379434" stroke-width="1.15"/>
<circle cx="320.60" cy="139.50" r="1.1" fill="#3c6e3c"/>
<circle cx="320.60" cy="143.30" r="1.1" fill="#38983a"/>
<circle cx="320.60" cy="145.00" r="1.1" fill="#38983a"/>
<circle cx="320.60" cy="146.70" r="1.1" fill="#38983a"/>
<circle cx="320.60" cy="151.70" r="1.1" fill="#3c6e3c"/>
<line x1="325.90" y1="74.60" x2="325.90" y2="113.50" stroke="#78b4ca" stroke-width="1.1"/>
<line x1="325.90" y1="143.80" x2="325.90" y2="189.20" stroke="#78b4ca" stroke-width="1.1"/>
<rect x="323.60" y="113.50" width="4.60" height="30.30" fill="#daeffa" stroke="#4aa4d4" stroke-width="1.15"/>
<line x1="323.60" y1="129.60" x2="328.20" y2="129.60" stroke="#4aa4d4" stroke-width="1.15"/>
<circle cx="325.90" cy="66.50" r="1.1" fill="#3a6e90"/>
<line x1="335.43" y1="177.00" x2="335.43" y2="183.80" stroke="#c47482" stroke-width="1.1"/>
<line x1="335.43" y1="189.00" x2="335.43" y2="195.00" stroke="#c47482" stroke-width="1.1"/>
<rect x="333.13" y="183.80" width="4.60" height="5.20" fill="#fbe0da" stroke="#a82035" stroke-width="1.15"/>
<line x1="333.13" y1="186.60" x2="337.73" y2="186.60" stroke="#a82035" stroke-width="1.15"/>
<circle cx="335.43" cy="164.20" r="1.1" fill="#701828"/>
<circle cx="335.43" cy="167.50" r="1.1" fill="#a8173a"/>
<circle cx="335.43" cy="169.80" r="1.1" fill="#a8173a"/>
<circle cx="335.43" cy="172.10" r="1.1" fill="#a8173a"/>
<circle cx="335.43" cy="174.40" r="1.1" fill="#a8173a"/>
<circle cx="335.43" cy="176.70" r="1.1" fill="#a8173a"/>
<line x1="340.68" y1="157.00" x2="340.68" y2="174.50" stroke="#74b46a" stroke-width="1.1"/>
<line x1="340.68" y1="184.80" x2="340.68" y2="196.00" stroke="#74b46a" stroke-width="1.1"/>
<rect x="338.38" y="174.50" width="4.60" height="10.30" fill="#e0f3d4" stroke="#379434" stroke-width="1.15"/>
<line x1="338.38" y1="180.60" x2="342.98" y2="180.60" stroke="#379434" stroke-width="1.15"/>
<circle cx="340.68" cy="133.30" r="1.1" fill="#3c6e3c"/>
<circle cx="340.68" cy="137.50" r="1.1" fill="#3c6e3c"/>
<circle cx="340.68" cy="141.70" r="1.1" fill="#3c6e3c"/>
<circle cx="340.68" cy="146.70" r="1.1" fill="#3c6e3c"/>
<circle cx="340.68" cy="151.70" r="1.1" fill="#38983a"/>
<circle cx="340.68" cy="154.25" r="1.1" fill="#38983a"/>
<circle cx="340.68" cy="156.80" r="1.1" fill="#38983a"/>
<line x1="345.98" y1="89.00" x2="345.98" y2="135.40" stroke="#78b4ca" stroke-width="1.1"/>
<line x1="345.98" y1="165.60" x2="345.98" y2="191.20" stroke="#78b4ca" stroke-width="1.1"/>
<rect x="343.68" y="135.40" width="4.60" height="30.20" fill="#daeffa" stroke="#4aa4d4" stroke-width="1.15"/>
<line x1="343.68" y1="149.20" x2="348.28" y2="149.20" stroke="#4aa4d4" stroke-width="1.15"/>
<circle cx="345.98" cy="80.80" r="1.1" fill="#3c9ed6"/>
<circle cx="345.98" cy="83.20" r="1.1" fill="#3c9ed6"/>
<circle cx="345.98" cy="85.60" r="1.1" fill="#3c9ed6"/>
<circle cx="345.98" cy="88.00" r="1.1" fill="#3c9ed6"/>
<line x1="355.51" y1="174.00" x2="355.51" y2="181.50" stroke="#c47482" stroke-width="1.1"/>
<line x1="355.51" y1="187.30" x2="355.51" y2="190.80" stroke="#c47482" stroke-width="1.1"/>
<rect x="353.21" y="181.50" width="4.60" height="5.80" fill="#fbe0da" stroke="#a82035" stroke-width="1.15"/>
<line x1="353.21" y1="184.40" x2="357.81" y2="184.40" stroke="#a82035" stroke-width="1.15"/>
<circle cx="355.51" cy="153.00" r="1.1" fill="#701828"/>
<circle cx="355.51" cy="158.40" r="1.1" fill="#a8173a"/>
<circle cx="355.51" cy="160.54" r="1.1" fill="#a8173a"/>
<circle cx="355.51" cy="162.69" r="1.1" fill="#a8173a"/>
<circle cx="355.51" cy="164.83" r="1.1" fill="#a8173a"/>
<circle cx="355.51" cy="166.97" r="1.1" fill="#a8173a"/>
<circle cx="355.51" cy="169.11" r="1.1" fill="#a8173a"/>
<circle cx="355.51" cy="171.26" r="1.1" fill="#a8173a"/>
<circle cx="355.51" cy="173.40" r="1.1" fill="#a8173a"/>
<line x1="360.76" y1="189.00" x2="360.76" y2="192.10" stroke="#74b46a" stroke-width="1.1"/>
<line x1="360.76" y1="196.00" x2="360.76" y2="200.80" stroke="#74b46a" stroke-width="1.1"/>
<rect x="358.46" y="192.10" width="4.60" height="3.90" fill="#e0f3d4" stroke="#379434" stroke-width="1.15"/>
<line x1="358.46" y1="194.00" x2="363.06" y2="194.00" stroke="#379434" stroke-width="1.15"/>
<circle cx="360.76" cy="181.00" r="1.1" fill="#38983a"/>
<circle cx="360.76" cy="183.33" r="1.1" fill="#38983a"/>
<circle cx="360.76" cy="185.67" r="1.1" fill="#38983a"/>
<circle cx="360.76" cy="188.00" r="1.1" fill="#38983a"/>
<line x1="366.06" y1="81.30" x2="366.06" y2="130.80" stroke="#78b4ca" stroke-width="1.1"/>
<line x1="366.06" y1="164.60" x2="366.06" y2="203.70" stroke="#78b4ca" stroke-width="1.1"/>
<rect x="363.76" y="130.80" width="4.60" height="33.80" fill="#daeffa" stroke="#4aa4d4" stroke-width="1.15"/>
<line x1="363.76" y1="148.70" x2="368.36" y2="148.70" stroke="#4aa4d4" stroke-width="1.15"/>
<circle cx="366.06" cy="72.70" r="1.1" fill="#3a6e90"/>
<circle cx="366.06" cy="77.50" r="1.1" fill="#3a6e90"/>
<line x1="375.59" y1="174.00" x2="375.59" y2="181.90" stroke="#c47482" stroke-width="1.1"/>
<line x1="375.59" y1="186.90" x2="375.59" y2="192.70" stroke="#c47482" stroke-width="1.1"/>
<rect x="373.29" y="181.90" width="4.60" height="5.00" fill="#fbe0da" stroke="#a82035" stroke-width="1.15"/>
<line x1="373.29" y1="184.40" x2="377.89" y2="184.40" stroke="#a82035" stroke-width="1.15"/>
<circle cx="375.59" cy="158.40" r="1.1" fill="#701828"/>
<circle cx="375.59" cy="160.50" r="1.1" fill="#a8173a"/>
<circle cx="375.59" cy="162.65" r="1.1" fill="#a8173a"/>
<circle cx="375.59" cy="164.80" r="1.1" fill="#a8173a"/>
<circle cx="375.59" cy="166.95" r="1.1" fill="#a8173a"/>
<circle cx="375.59" cy="169.10" r="1.1" fill="#a8173a"/>
<circle cx="375.59" cy="171.25" r="1.1" fill="#a8173a"/>
<circle cx="375.59" cy="173.40" r="1.1" fill="#a8173a"/>
<line x1="380.84" y1="121.50" x2="380.84" y2="153.00" stroke="#74b46a" stroke-width="1.1"/>
<line x1="380.84" y1="174.20" x2="380.84" y2="192.10" stroke="#74b46a" stroke-width="1.1"/>
<rect x="378.54" y="153.00" width="4.60" height="21.20" fill="#e0f3d4" stroke="#379434" stroke-width="1.15"/>
<line x1="378.54" y1="163.00" x2="383.14" y2="163.00" stroke="#379434" stroke-width="1.15"/>
<circle cx="380.84" cy="92.70" r="1.1" fill="#3c6e3c"/>
<circle cx="380.84" cy="104.80" r="1.1" fill="#3c6e3c"/>
<circle cx="380.84" cy="110.00" r="1.1" fill="#3c6e3c"/>
<circle cx="380.84" cy="115.80" r="1.1" fill="#3c6e3c"/>
<circle cx="380.84" cy="119.60" r="1.1" fill="#3c6e3c"/>
<line x1="386.14" y1="148.00" x2="386.14" y2="174.20" stroke="#78b4ca" stroke-width="1.1"/>
<line x1="386.14" y1="190.20" x2="386.14" y2="204.20" stroke="#78b4ca" stroke-width="1.1"/>
<rect x="383.84" y="174.20" width="4.60" height="16.00" fill="#daeffa" stroke="#4aa4d4" stroke-width="1.15"/>
<line x1="383.84" y1="183.00" x2="388.44" y2="183.00" stroke="#4aa4d4" stroke-width="1.15"/>
<circle cx="386.14" cy="114.80" r="1.1" fill="#3a6e90"/>
<circle cx="386.14" cy="123.50" r="1.1" fill="#3a6e90"/>
<circle cx="386.14" cy="128.80" r="1.1" fill="#3a6e90"/>
<circle cx="386.14" cy="132.00" r="1.1" fill="#3a6e90"/>
<circle cx="386.14" cy="140.60" r="1.1" fill="#3a6e90"/>
<circle cx="386.14" cy="143.80" r="1.1" fill="#3a6e90"/>
<line x1="395.67" y1="145.00" x2="395.67" y2="167.10" stroke="#c47482" stroke-width="1.1"/>
<line x1="395.67" y1="182.50" x2="395.67" y2="193.00" stroke="#c47482" stroke-width="1.1"/>
<rect x="393.37" y="167.10" width="4.60" height="15.40" fill="#fbe0da" stroke="#a82035" stroke-width="1.15"/>
<line x1="393.37" y1="175.50" x2="397.97" y2="175.50" stroke="#a82035" stroke-width="1.15"/>
<circle cx="395.67" cy="127.00" r="1.1" fill="#701828"/>
<circle cx="395.67" cy="130.00" r="1.1" fill="#701828"/>
<circle cx="395.67" cy="141.00" r="1.1" fill="#a8173a"/>
<circle cx="395.67" cy="142.70" r="1.1" fill="#a8173a"/>
<circle cx="395.67" cy="144.40" r="1.1" fill="#a8173a"/>
<line x1="400.92" y1="137.00" x2="400.92" y2="164.20" stroke="#74b46a" stroke-width="1.1"/>
<line x1="400.92" y1="183.00" x2="400.92" y2="195.00" stroke="#74b46a" stroke-width="1.1"/>
<rect x="398.62" y="164.20" width="4.60" height="18.80" fill="#e0f3d4" stroke="#379434" stroke-width="1.15"/>
<line x1="398.62" y1="172.00" x2="403.22" y2="172.00" stroke="#379434" stroke-width="1.15"/>
<circle cx="400.92" cy="123.50" r="1.1" fill="#38983a"/>
<circle cx="400.92" cy="125.80" r="1.1" fill="#38983a"/>
<circle cx="400.92" cy="128.10" r="1.1" fill="#38983a"/>
<circle cx="400.92" cy="130.40" r="1.1" fill="#38983a"/>
<circle cx="400.92" cy="132.70" r="1.1" fill="#38983a"/>
<circle cx="400.92" cy="135.00" r="1.1" fill="#38983a"/>
<line x1="406.22" y1="158.00" x2="406.22" y2="177.30" stroke="#78b4ca" stroke-width="1.1"/>
<line x1="406.22" y1="191.20" x2="406.22" y2="202.70" stroke="#78b4ca" stroke-width="1.1"/>
<rect x="403.92" y="177.30" width="4.60" height="13.90" fill="#daeffa" stroke="#4aa4d4" stroke-width="1.15"/>
<line x1="403.92" y1="185.00" x2="408.52" y2="185.00" stroke="#4aa4d4" stroke-width="1.15"/>
<circle cx="406.22" cy="128.30" r="1.1" fill="#3a6e90"/>
<circle cx="406.22" cy="140.60" r="1.1" fill="#3a6e90"/>
<circle cx="406.22" cy="146.30" r="1.1" fill="#3c9ed6"/>
<circle cx="406.22" cy="148.44" r="1.1" fill="#3c9ed6"/>
<circle cx="406.22" cy="150.58" r="1.1" fill="#3c9ed6"/>
<circle cx="406.22" cy="152.72" r="1.1" fill="#3c9ed6"/>
<circle cx="406.22" cy="154.86" r="1.1" fill="#3c9ed6"/>
<circle cx="406.22" cy="157.00" r="1.1" fill="#3c9ed6"/>
<line x1="415.75" y1="179.00" x2="415.75" y2="183.80" stroke="#c47482" stroke-width="1.1"/>
<line x1="415.75" y1="189.20" x2="415.75" y2="195.00" stroke="#c47482" stroke-width="1.1"/>
<rect x="413.45" y="183.80" width="4.60" height="5.40" fill="#fbe0da" stroke="#a82035" stroke-width="1.15"/>
<line x1="413.45" y1="186.90" x2="418.05" y2="186.90" stroke="#a82035" stroke-width="1.15"/>
<circle cx="415.75" cy="166.70" r="1.1" fill="#701828"/>
<circle cx="415.75" cy="169.20" r="1.1" fill="#a8173a"/>
<circle cx="415.75" cy="171.50" r="1.1" fill="#a8173a"/>
<circle cx="415.75" cy="173.80" r="1.1" fill="#a8173a"/>
<circle cx="415.75" cy="176.10" r="1.1" fill="#a8173a"/>
<circle cx="415.75" cy="178.40" r="1.1" fill="#a8173a"/>
<line x1="421.00" y1="146.00" x2="421.00" y2="168.50" stroke="#74b46a" stroke-width="1.1"/>
<line x1="421.00" y1="181.90" x2="421.00" y2="195.00" stroke="#74b46a" stroke-width="1.1"/>
<rect x="418.70" y="168.50" width="4.60" height="13.40" fill="#e0f3d4" stroke="#379434" stroke-width="1.15"/>
<line x1="418.70" y1="176.70" x2="423.30" y2="176.70" stroke="#379434" stroke-width="1.15"/>
<circle cx="421.00" cy="131.00" r="1.1" fill="#38983a"/>
<circle cx="421.00" cy="133.06" r="1.1" fill="#38983a"/>
<circle cx="421.00" cy="135.11" r="1.1" fill="#38983a"/>
<circle cx="421.00" cy="137.17" r="1.1" fill="#38983a"/>
<circle cx="421.00" cy="139.23" r="1.1" fill="#38983a"/>
<circle cx="421.00" cy="141.29" r="1.1" fill="#38983a"/>
<circle cx="421.00" cy="143.34" r="1.1" fill="#38983a"/>
<circle cx="421.00" cy="145.40" r="1.1" fill="#38983a"/>
<line x1="426.30" y1="180.00" x2="426.30" y2="183.30" stroke="#78b4ca" stroke-width="1.1"/>
<line x1="426.30" y1="189.20" x2="426.30" y2="194.00" stroke="#78b4ca" stroke-width="1.1"/>
<rect x="424.00" y="183.30" width="4.60" height="5.90" fill="#daeffa" stroke="#4aa4d4" stroke-width="1.15"/>
<line x1="424.00" y1="186.30" x2="428.60" y2="186.30" stroke="#4aa4d4" stroke-width="1.15"/>
<circle cx="426.30" cy="155.00" r="1.1" fill="#3a6e90"/>
<circle cx="426.30" cy="161.70" r="1.1" fill="#3a6e90"/>
<circle cx="426.30" cy="166.70" r="1.1" fill="#3c9ed6"/>
<circle cx="426.30" cy="169.04" r="1.1" fill="#3c9ed6"/>
<circle cx="426.30" cy="171.38" r="1.1" fill="#3c9ed6"/>
<circle cx="426.30" cy="173.72" r="1.1" fill="#3c9ed6"/>
<circle cx="426.30" cy="176.06" r="1.1" fill="#3c9ed6"/>
<circle cx="426.30" cy="178.40" r="1.1" fill="#3c9ed6"/>
<line x1="435.83" y1="166.00" x2="435.83" y2="176.70" stroke="#c47482" stroke-width="1.1"/>
<line x1="435.83" y1="184.40" x2="435.83" y2="189.20" stroke="#c47482" stroke-width="1.1"/>
<rect x="433.53" y="176.70" width="4.60" height="7.70" fill="#fbe0da" stroke="#a82035" stroke-width="1.15"/>
<line x1="433.53" y1="180.60" x2="438.13" y2="180.60" stroke="#a82035" stroke-width="1.15"/>
<circle cx="435.83" cy="150.80" r="1.1" fill="#701828"/>
<circle cx="435.83" cy="156.50" r="1.1" fill="#701828"/>
<circle cx="435.83" cy="160.80" r="1.1" fill="#a8173a"/>
<circle cx="435.83" cy="162.70" r="1.1" fill="#a8173a"/>
<circle cx="435.83" cy="164.60" r="1.1" fill="#a8173a"/>
<line x1="441.08" y1="183.00" x2="441.08" y2="187.30" stroke="#74b46a" stroke-width="1.1"/>
<line x1="441.08" y1="191.20" x2="441.08" y2="196.00" stroke="#74b46a" stroke-width="1.1"/>
<rect x="438.78" y="187.30" width="4.60" height="3.90" fill="#e0f3d4" stroke="#379434" stroke-width="1.15"/>
<line x1="438.78" y1="189.20" x2="443.38" y2="189.20" stroke="#379434" stroke-width="1.15"/>
<circle cx="441.08" cy="177.00" r="1.1" fill="#38983a"/>
<circle cx="441.08" cy="179.00" r="1.1" fill="#38983a"/>
<circle cx="441.08" cy="181.00" r="1.1" fill="#38983a"/>
<circle cx="441.08" cy="183.00" r="1.1" fill="#38983a"/>
<line x1="446.38" y1="150.00" x2="446.38" y2="171.00" stroke="#78b4ca" stroke-width="1.1"/>
<line x1="446.38" y1="185.40" x2="446.38" y2="195.00" stroke="#78b4ca" stroke-width="1.1"/>
<rect x="444.08" y="171.00" width="4.60" height="14.40" fill="#daeffa" stroke="#4aa4d4" stroke-width="1.15"/>
<line x1="444.08" y1="178.70" x2="448.68" y2="178.70" stroke="#4aa4d4" stroke-width="1.15"/>
<circle cx="446.38" cy="116.70" r="1.1" fill="#3c9ed6"/>
<circle cx="446.38" cy="118.65" r="1.1" fill="#3c9ed6"/>
<circle cx="446.38" cy="120.60" r="1.1" fill="#3c9ed6"/>
<circle cx="446.38" cy="130.00" r="1.1" fill="#3a6e90"/>
<circle cx="446.38" cy="134.00" r="1.1" fill="#3a6e90"/>
<circle cx="446.38" cy="141.00" r="1.1" fill="#3c9ed6"/>
<circle cx="446.38" cy="143.00" r="1.1" fill="#3c9ed6"/>
<circle cx="446.38" cy="145.00" r="1.1" fill="#3c9ed6"/>
<circle cx="446.38" cy="147.00" r="1.1" fill="#3c9ed6"/>
<circle cx="446.38" cy="149.00" r="1.1" fill="#3c9ed6"/>
<line x1="455.91" y1="184.00" x2="455.91" y2="185.40" stroke="#c47482" stroke-width="1.1"/>
<line x1="455.91" y1="190.20" x2="455.91" y2="194.60" stroke="#c47482" stroke-width="1.1"/>
<rect x="453.61" y="185.40" width="4.60" height="4.80" fill="#fbe0da" stroke="#a82035" stroke-width="1.15"/>
<line x1="453.61" y1="187.70" x2="458.21" y2="187.70" stroke="#a82035" stroke-width="1.15"/>
<circle cx="455.91" cy="167.60" r="1.1" fill="#701828"/>
<circle cx="455.91" cy="171.80" r="1.1" fill="#a8173a"/>
<circle cx="455.91" cy="173.96" r="1.1" fill="#a8173a"/>
<circle cx="455.91" cy="176.12" r="1.1" fill="#a8173a"/>
<circle cx="455.91" cy="178.28" r="1.1" fill="#a8173a"/>
<circle cx="455.91" cy="180.44" r="1.1" fill="#a8173a"/>
<circle cx="455.91" cy="182.60" r="1.1" fill="#a8173a"/>
<line x1="461.16" y1="131.00" x2="461.16" y2="163.00" stroke="#74b46a" stroke-width="1.1"/>
<line x1="461.16" y1="183.00" x2="461.16" y2="197.00" stroke="#74b46a" stroke-width="1.1"/>
<rect x="458.86" y="163.00" width="4.60" height="20.00" fill="#e0f3d4" stroke="#379434" stroke-width="1.15"/>
<line x1="458.86" y1="174.20" x2="463.46" y2="174.20" stroke="#379434" stroke-width="1.15"/>
<circle cx="461.16" cy="109.00" r="1.1" fill="#3c6e3c"/>
<circle cx="461.16" cy="123.00" r="1.1" fill="#3c6e3c"/>
<circle cx="461.16" cy="129.60" r="1.1" fill="#3c6e3c"/>
<line x1="466.46" y1="185.00" x2="466.46" y2="189.20" stroke="#78b4ca" stroke-width="1.1"/>
<line x1="466.46" y1="194.00" x2="466.46" y2="197.00" stroke="#78b4ca" stroke-width="1.1"/>
<rect x="464.16" y="189.20" width="4.60" height="4.80" fill="#daeffa" stroke="#4aa4d4" stroke-width="1.15"/>
<line x1="464.16" y1="191.50" x2="468.76" y2="191.50" stroke="#4aa4d4" stroke-width="1.15"/>
<circle cx="466.46" cy="161.70" r="1.1" fill="#3c9ed6"/>
<circle cx="466.46" cy="163.88" r="1.1" fill="#3c9ed6"/>
<circle cx="466.46" cy="166.06" r="1.1" fill="#3c9ed6"/>
<circle cx="466.46" cy="168.24" r="1.1" fill="#3c9ed6"/>
<circle cx="466.46" cy="170.42" r="1.1" fill="#3c9ed6"/>
<circle cx="466.46" cy="172.60" r="1.1" fill="#3c9ed6"/>
<circle cx="466.46" cy="174.78" r="1.1" fill="#3c9ed6"/>
<circle cx="466.46" cy="176.96" r="1.1" fill="#3c9ed6"/>
<circle cx="466.46" cy="179.14" r="1.1" fill="#3c9ed6"/>
<circle cx="466.46" cy="181.32" r="1.1" fill="#3c9ed6"/>
<circle cx="466.46" cy="183.50" r="1.1" fill="#3c9ed6"/>
<line x1="475.99" y1="184.00" x2="475.99" y2="186.30" stroke="#c47482" stroke-width="1.1"/>
<line x1="475.99" y1="190.20" x2="475.99" y2="192.70" stroke="#c47482" stroke-width="1.1"/>
<rect x="473.69" y="186.30" width="4.60" height="3.90" fill="#fbe0da" stroke="#a82035" stroke-width="1.15"/>
<line x1="473.69" y1="188.30" x2="478.29" y2="188.30" stroke="#a82035" stroke-width="1.15"/>
<circle cx="475.99" cy="154.60" r="1.1" fill="#701828"/>
<circle cx="475.99" cy="170.00" r="1.1" fill="#a8173a"/>
<circle cx="475.99" cy="172.33" r="1.1" fill="#a8173a"/>
<circle cx="475.99" cy="174.67" r="1.1" fill="#a8173a"/>
<circle cx="475.99" cy="177.00" r="1.1" fill="#a8173a"/>
<circle cx="475.99" cy="179.33" r="1.1" fill="#a8173a"/>
<circle cx="475.99" cy="181.67" r="1.1" fill="#a8173a"/>
<circle cx="475.99" cy="184.00" r="1.1" fill="#a8173a"/>
<line x1="481.24" y1="184.30" x2="481.24" y2="186.30" stroke="#74b46a" stroke-width="1.1"/>
<line x1="481.24" y1="190.20" x2="481.24" y2="195.00" stroke="#74b46a" stroke-width="1.1"/>
<rect x="478.94" y="186.30" width="4.60" height="3.90" fill="#e0f3d4" stroke="#379434" stroke-width="1.15"/>
<line x1="478.94" y1="188.30" x2="483.54" y2="188.30" stroke="#379434" stroke-width="1.15"/>
<circle cx="481.24" cy="165.00" r="1.1" fill="#3c6e3c"/>
<circle cx="481.24" cy="167.60" r="1.1" fill="#38983a"/>
<circle cx="481.24" cy="169.69" r="1.1" fill="#38983a"/>
<circle cx="481.24" cy="171.78" r="1.1" fill="#38983a"/>
<circle cx="481.24" cy="173.86" r="1.1" fill="#38983a"/>
<circle cx="481.24" cy="175.95" r="1.1" fill="#38983a"/>
<circle cx="481.24" cy="178.04" r="1.1" fill="#38983a"/>
<circle cx="481.24" cy="180.12" r="1.1" fill="#38983a"/>
<circle cx="481.24" cy="182.21" r="1.1" fill="#38983a"/>
<circle cx="481.24" cy="184.30" r="1.1" fill="#38983a"/>
<line x1="486.54" y1="161.70" x2="486.54" y2="172.90" stroke="#78b4ca" stroke-width="1.1"/>
<line x1="486.54" y1="184.40" x2="486.54" y2="194.00" stroke="#78b4ca" stroke-width="1.1"/>
<rect x="484.24" y="172.90" width="4.60" height="11.50" fill="#daeffa" stroke="#4aa4d4" stroke-width="1.15"/>
<line x1="484.24" y1="179.20" x2="488.84" y2="179.20" stroke="#4aa4d4" stroke-width="1.15"/>
<circle cx="486.54" cy="137.70" r="1.1" fill="#3a6e90"/>
<circle cx="486.54" cy="145.00" r="1.1" fill="#3c9ed6"/>
<circle cx="486.54" cy="147.09" r="1.1" fill="#3c9ed6"/>
<circle cx="486.54" cy="149.18" r="1.1" fill="#3c9ed6"/>
<circle cx="486.54" cy="151.26" r="1.1" fill="#3c9ed6"/>
<circle cx="486.54" cy="153.35" r="1.1" fill="#3c9ed6"/>
<circle cx="486.54" cy="155.44" r="1.1" fill="#3c9ed6"/>
<circle cx="486.54" cy="157.52" r="1.1" fill="#3c9ed6"/>
<circle cx="486.54" cy="159.61" r="1.1" fill="#3c9ed6"/>
<circle cx="486.54" cy="161.70" r="1.1" fill="#3c9ed6"/>
<line x1="496.07" y1="175.00" x2="496.07" y2="179.60" stroke="#c47482" stroke-width="1.1"/>
<line x1="496.07" y1="184.00" x2="496.07" y2="188.00" stroke="#c47482" stroke-width="1.1"/>
<rect x="493.77" y="179.60" width="4.60" height="4.40" fill="#fbe0da" stroke="#a82035" stroke-width="1.15"/>
<line x1="493.77" y1="181.90" x2="498.37" y2="181.90" stroke="#a82035" stroke-width="1.15"/>
<circle cx="496.07" cy="167.60" r="1.1" fill="#a8173a"/>
<circle cx="496.07" cy="170.30" r="1.1" fill="#a8173a"/>
<circle cx="496.07" cy="173.00" r="1.1" fill="#a8173a"/>
<line x1="501.32" y1="155.00" x2="501.32" y2="174.00" stroke="#74b46a" stroke-width="1.1"/>
<line x1="501.32" y1="187.00" x2="501.32" y2="195.00" stroke="#74b46a" stroke-width="1.1"/>
<rect x="499.02" y="174.00" width="4.60" height="13.00" fill="#e0f3d4" stroke="#379434" stroke-width="1.15"/>
<line x1="499.02" y1="178.00" x2="503.62" y2="178.00" stroke="#379434" stroke-width="1.15"/>
<circle cx="501.32" cy="137.50" r="1.1" fill="#38983a"/>
<circle cx="501.32" cy="140.00" r="1.1" fill="#38983a"/>
<circle cx="501.32" cy="142.50" r="1.1" fill="#38983a"/>
<circle cx="501.32" cy="145.00" r="1.1" fill="#38983a"/>
<circle cx="501.32" cy="148.40" r="1.1" fill="#38983a"/>
<circle cx="501.32" cy="150.60" r="1.1" fill="#38983a"/>
<circle cx="501.32" cy="152.80" r="1.1" fill="#38983a"/>
<circle cx="501.32" cy="155.00" r="1.1" fill="#38983a"/>
<line x1="506.62" y1="190.00" x2="506.62" y2="191.80" stroke="#78b4ca" stroke-width="1.1"/>
<line x1="506.62" y1="196.50" x2="506.62" y2="199.00" stroke="#78b4ca" stroke-width="1.1"/>
<rect x="504.32" y="191.80" width="4.60" height="4.70" fill="#daeffa" stroke="#4aa4d4" stroke-width="1.15"/>
<line x1="504.32" y1="193.80" x2="508.92" y2="193.80" stroke="#4aa4d4" stroke-width="1.15"/>
<circle cx="506.62" cy="171.00" r="1.1" fill="#3a6e90"/>
<circle cx="506.62" cy="179.00" r="1.1" fill="#3c9ed6"/>
<circle cx="506.62" cy="181.20" r="1.1" fill="#3c9ed6"/>
<circle cx="506.62" cy="183.40" r="1.1" fill="#3c9ed6"/>
<circle cx="506.62" cy="185.60" r="1.1" fill="#3c9ed6"/>
<circle cx="506.62" cy="187.80" r="1.1" fill="#3c9ed6"/>
<circle cx="506.62" cy="190.00" r="1.1" fill="#3c9ed6"/>
<line x1="309.40" y1="44.00" x2="309.40" y2="214.30" stroke="#383838" stroke-width="1.5"/>
<line x1="308.60" y1="213.50" x2="513.40" y2="213.50" stroke="#383838" stroke-width="1.35"/>
<line x1="320.60" y1="213.50" x2="320.60" y2="216.30" stroke="#222" stroke-width="1.0"/>
<text transform="translate(323.00,225.60) rotate(-45)" font-size="7.1" fill="#222" stroke="#222" stroke-width="0.15" text-anchor="end" font-family="'Liberation Sans', sans-serif">Resp</text>
<line x1="340.68" y1="213.50" x2="340.68" y2="216.30" stroke="#222" stroke-width="1.0"/>
<text transform="translate(343.08,225.60) rotate(-45)" font-size="7.1" fill="#222" stroke="#222" stroke-width="0.15" text-anchor="end" font-family="'Liberation Sans', sans-serif">Hepatic</text>
<line x1="360.76" y1="213.50" x2="360.76" y2="216.30" stroke="#222" stroke-width="1.0"/>
<text transform="translate(363.16,225.60) rotate(-45)" font-size="7.1" fill="#222" stroke="#222" stroke-width="0.15" text-anchor="end" font-family="'Liberation Sans', sans-serif">Renal</text>
<line x1="380.84" y1="213.50" x2="380.84" y2="216.30" stroke="#222" stroke-width="1.0"/>
<text transform="translate(383.24,225.60) rotate(-45)" font-size="7.1" fill="#222" stroke="#222" stroke-width="0.15" text-anchor="end" font-family="'Liberation Sans', sans-serif">Neuro</text>
<line x1="400.92" y1="213.50" x2="400.92" y2="216.30" stroke="#222" stroke-width="1.0"/>
<text transform="translate(403.32,225.60) rotate(-45)" font-size="7.1" fill="#222" stroke="#222" stroke-width="0.15" text-anchor="end" font-family="'Liberation Sans', sans-serif">UGI</text>
<line x1="421.00" y1="213.50" x2="421.00" y2="216.30" stroke="#222" stroke-width="1.0"/>
<text transform="translate(423.40,225.60) rotate(-45)" font-size="7.1" fill="#222" stroke="#222" stroke-width="0.15" text-anchor="end" font-family="'Liberation Sans', sans-serif">Endo</text>
<line x1="441.08" y1="213.50" x2="441.08" y2="216.30" stroke="#222" stroke-width="1.0"/>
<text transform="translate(443.48,225.60) rotate(-45)" font-size="7.1" fill="#222" stroke="#222" stroke-width="0.15" text-anchor="end" font-family="'Liberation Sans', sans-serif">LGI</text>
<line x1="461.16" y1="213.50" x2="461.16" y2="216.30" stroke="#222" stroke-width="1.0"/>
<text transform="translate(463.56,225.60) rotate(-45)" font-size="7.1" fill="#222" stroke="#222" stroke-width="0.15" text-anchor="end" font-family="'Liberation Sans', sans-serif">Cardiac</text>
<line x1="481.24" y1="213.50" x2="481.24" y2="216.30" stroke="#222" stroke-width="1.0"/>
<text transform="translate(483.64,225.60) rotate(-45)" font-size="7.1" fill="#222" stroke="#222" stroke-width="0.15" text-anchor="end" font-family="'Liberation Sans', sans-serif">HTN</text>
<line x1="501.32" y1="213.50" x2="501.32" y2="216.30" stroke="#222" stroke-width="1.0"/>
<text transform="translate(503.72,225.60) rotate(-45)" font-size="7.1" fill="#222" stroke="#222" stroke-width="0.15" text-anchor="end" font-family="'Liberation Sans', sans-serif">Psych</text>
<text x="493.9" y="57.0" font-size="6.7" fill="#2a2a2a" stroke="#2a2a2a" stroke-width="0.12" font-family="'Liberation Sans', sans-serif">Split</text>
<line x1="497.30" y1="60.90" x2="497.30" y2="69.90" stroke="#a82035" stroke-width="1.0"/>
<rect x="494.40" y="62.70" width="5.8" height="5.4" fill="#f2c0c8" stroke="#a82035" stroke-width="1.1"/>
<line x1="494.40" y1="65.40" x2="500.20" y2="65.40" stroke="#a82035" stroke-width="1.1"/>
<text x="503.60" y="67.80" font-size="6.6" fill="#222" stroke="#222" stroke-width="0.25" textLength="3.0" lengthAdjust="spacingAndGlyphs" font-family="'Liberation Sans', sans-serif">0</text>
<line x1="497.30" y1="72.50" x2="497.30" y2="81.50" stroke="#379434" stroke-width="1.0"/>
<rect x="494.40" y="74.30" width="5.8" height="5.4" fill="#c4e8b8" stroke="#379434" stroke-width="1.1"/>
<line x1="494.40" y1="77.00" x2="500.20" y2="77.00" stroke="#379434" stroke-width="1.1"/>
<text x="503.60" y="79.40" font-size="6.6" fill="#222" stroke="#222" stroke-width="0.25" textLength="3.0" lengthAdjust="spacingAndGlyphs" font-family="'Liberation Sans', sans-serif">1</text>
<line x1="497.30" y1="84.10" x2="497.30" y2="93.10" stroke="#4aa4d4" stroke-width="1.0"/>
<rect x="494.40" y="85.90" width="5.8" height="5.4" fill="#c2e4f4" stroke="#4aa4d4" stroke-width="1.1"/>
<line x1="494.40" y1="88.60" x2="500.20" y2="88.60" stroke="#4aa4d4" stroke-width="1.1"/>
<text x="503.60" y="91.00" font-size="6.6" fill="#222" stroke="#222" stroke-width="0.25" textLength="3.0" lengthAdjust="spacingAndGlyphs" font-family="'Liberation Sans', sans-serif">2</text>
</g>
<g fill="#686868"><rect x="0" y="0" width="520" height="1.15"/><rect x="0" y="0" width="1.15" height="251"/><rect x="518.6" y="0" width="1.4" height="251"/><rect x="0" y="250" width="520" height="1"/></g>
</svg>
</body></html>
